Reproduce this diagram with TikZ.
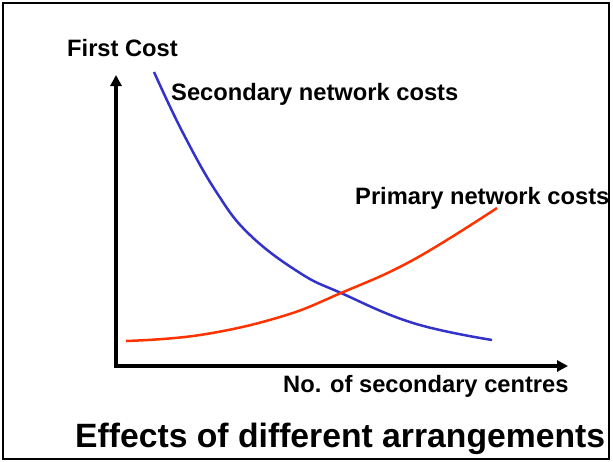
\documentclass[tikz,border=0pt]{standalone}
\usepackage{fontspec}
\setmainfont{Liberation Sans}
\usetikzlibrary{
    arrows.meta,
    positioning
}

\tikzset{
    axis/.style={line width=3.5pt, {Triangle[length=11pt,width=11pt]}-{Triangle[length=11pt,width=11pt]}},
    curvelabel/.style={inner sep=0pt, anchor=base west, font=\bfseries\fontsize{23.7}{28}\selectfont},
    costcurve/.style={line width=2.5pt, smooth, tension=0.7}
}
\definecolor{secblue}{RGB}{51,51,204}
\definecolor{primred}{RGB}{255,51,0}

\begin{document}
\begin{tikzpicture}[x=1pt, y=-1pt]
    \useasboundingbox (0,0) rectangle (613,461);
    \draw[line width=2pt] (3,3) rectangle (609,459); % frame

    % axes
    \coordinate (origin) at (116,366);
    \coordinate (ytop)   at (116,75);
    \coordinate (xend)   at (568,366);
    \draw[axis] (ytop) -- (origin) -- (xend);

    % curves
    \draw[costcurve, secblue] plot coordinates {
        (154,72) (183,133) (217,193) (250,235) (300,273)
        (341,293) (413,323) (492,340)};
    \draw[costcurve, primred] plot coordinates {
        (126,341) (200,335) (280,317) (341,293) (413,260) (497,208)};

    % labels
    \node[curvelabel] (firstcost) at (67,56)  {First Cost};
    \node[curvelabel] (secondary) at (171,100) {Secondary network costs};
    \node[curvelabel] (primary)   at (355,204) {Primary network costs};
    \node[curvelabel] (centres)   at (283,392) {No. of secondary centres};
    \node[inner sep=0pt, anchor=base west, font=\bfseries\fontsize{33.7}{40}\selectfont]
        (title) at (75,447) {Effects of different arrangements};
\end{tikzpicture}
\end{document}
